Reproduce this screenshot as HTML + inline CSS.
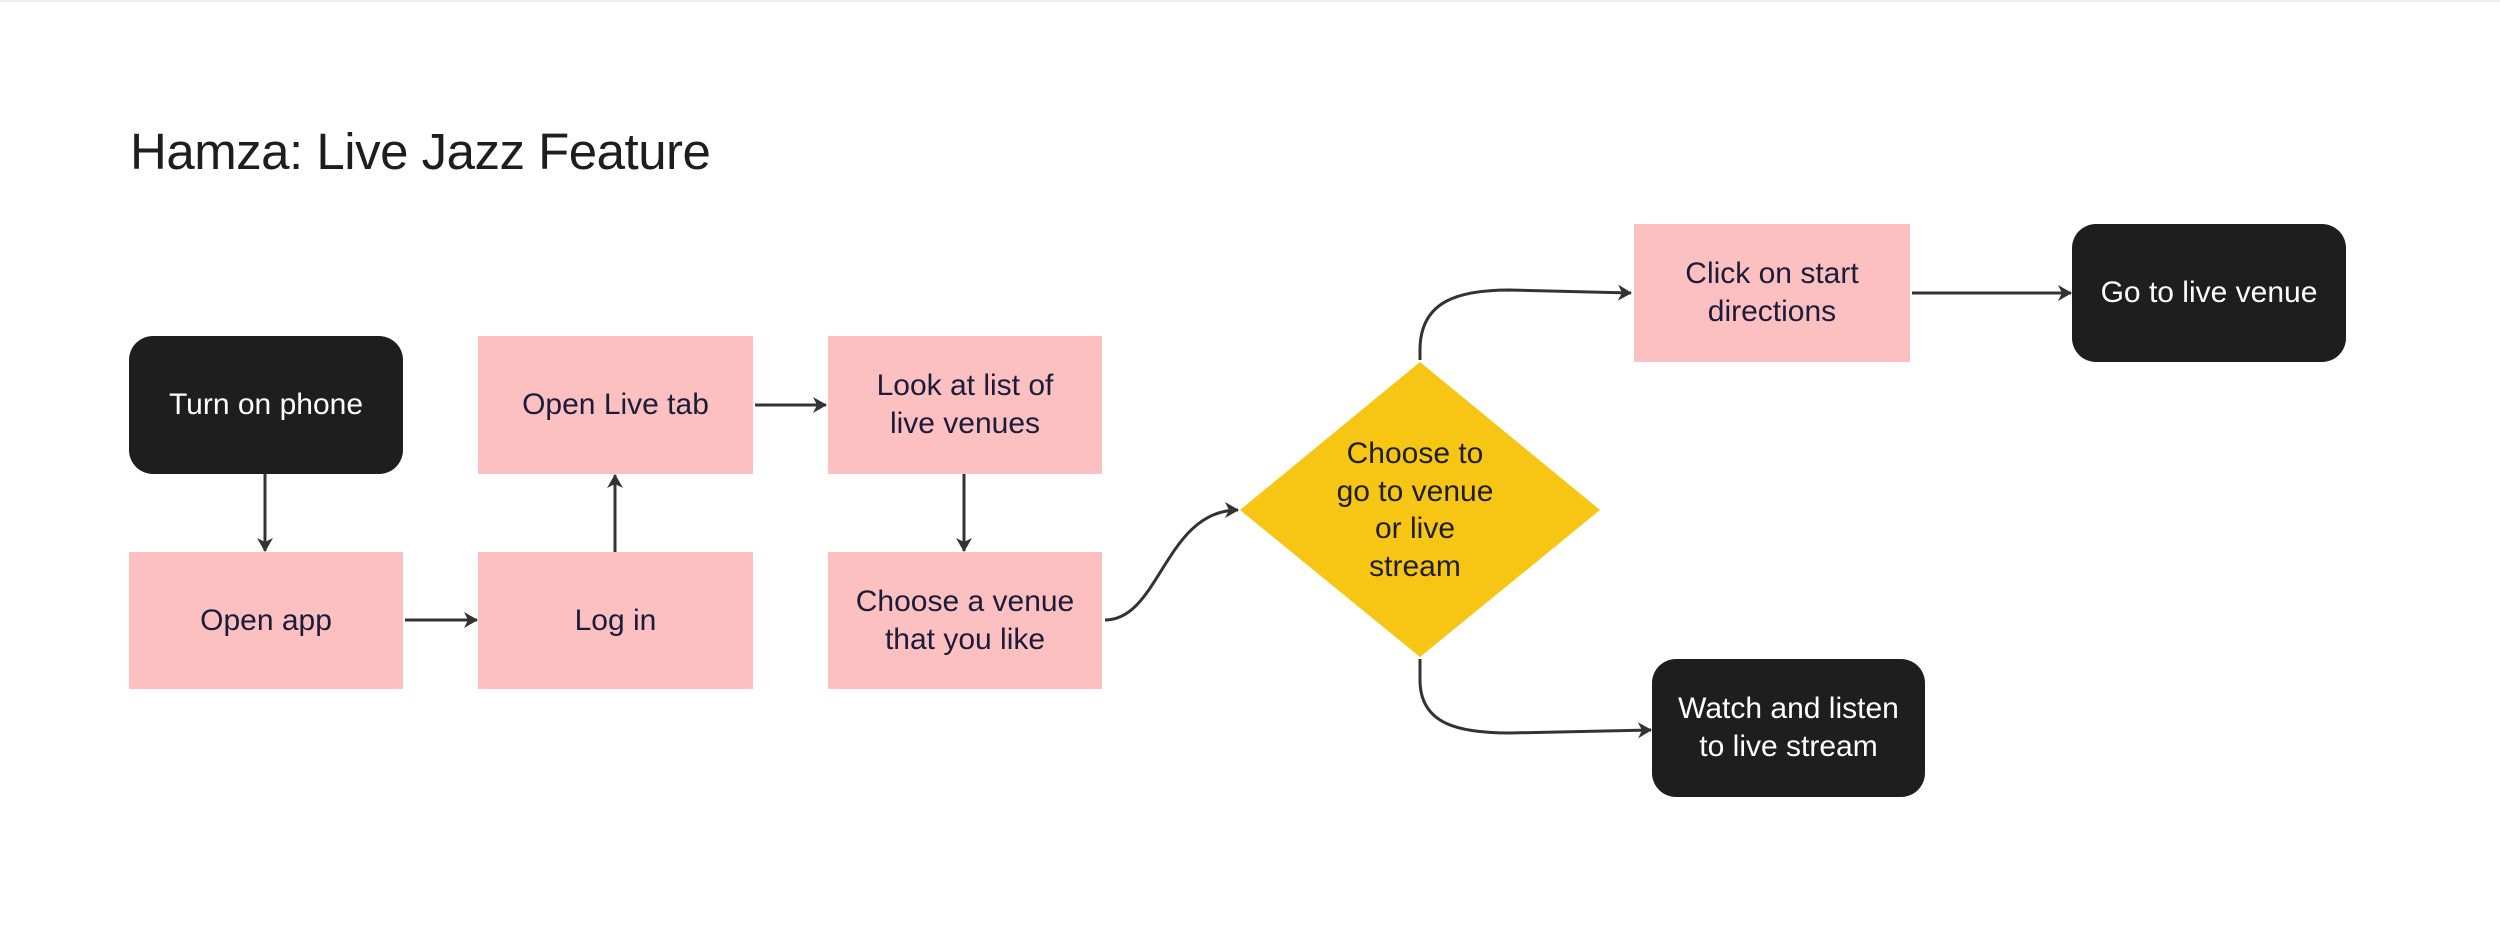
<!DOCTYPE html>
<html><head><meta charset="utf-8"><style>
html,body{margin:0;padding:0;background:#fff;}
body{width:2500px;height:937px;position:relative;overflow:hidden;font-family:"Liberation Sans",Arial,sans-serif;}
.t{position:absolute;left:130px;top:122px;font-size:51px;color:#1e1e1e;letter-spacing:-0.5px;}
.b{position:absolute;display:flex;align-items:center;justify-content:center;text-align:center;font-size:30px;line-height:38px;box-sizing:border-box;}
.p{background:#fdc0c0;color:#1b1b3a;}
.k{background:#1e1e1e;color:#fff;border-radius:24px;}
.d{position:absolute;left:1415px;top:510px;width:300px;transform:translate(-50%,-50%);text-align:center;font-size:30px;line-height:37.5px;color:#1e1e1e;}
</style></head><body>
<div style="position:absolute;left:0;top:0;width:2500px;height:2px;background:#eee"></div>
<div class="t">Hamza: Live Jazz Feature</div>
<svg width="2500" height="937" style="position:absolute;left:0;top:0">
<defs><marker id="a" markerWidth="20" markerHeight="20" refX="16" refY="10" orient="auto" markerUnits="userSpaceOnUse">
<path d="M3,2 L17,10 L3,18 L7,10 Z" fill="#333"/></marker></defs>
<polygon points="1420,362 1600,510 1420,657 1240,510" fill="#f7c614"/>
<g stroke="#333" stroke-width="3" fill="none" marker-end="url(#a)">
<line x1="265" y1="474" x2="265" y2="551"/>
<line x1="405" y1="620" x2="477" y2="620"/>
<line x1="615" y1="552" x2="615" y2="475"/>
<line x1="755" y1="405" x2="826" y2="405"/>
<line x1="964" y1="474" x2="964" y2="551"/>
<path d="M1105,620 C1160,620 1165,510 1238,510"/>
<path d="M1420,360 L1420,350 C1420,300 1460,290 1510,290 L1631,293"/>
<line x1="1912" y1="293" x2="2071" y2="293"/>
<path d="M1420,659 L1420,680 C1420,725 1460,733 1510,733 L1651,730"/>
</g>
</svg>
<div class="b k" style="left:129px;top:336px;width:274px;height:138px">Turn on phone</div>
<div class="b p" style="left:129px;top:552px;width:274px;height:137px">Open app</div>
<div class="b p" style="left:478px;top:552px;width:275px;height:137px">Log in</div>
<div class="b p" style="left:478px;top:336px;width:275px;height:138px">Open Live tab</div>
<div class="b p" style="left:828px;top:336px;width:274px;height:138px">Look at list of<br>live venues</div>
<div class="b p" style="left:828px;top:552px;width:274px;height:137px">Choose a venue<br>that you like</div>
<div class="d">Choose to<br>go to venue<br>or live<br>stream</div>
<div class="b p" style="left:1634px;top:224px;width:276px;height:138px">Click on start<br>directions</div>
<div class="b k" style="left:2072px;top:224px;width:274px;height:138px">Go to live venue</div>
<div class="b k" style="left:1652px;top:659px;width:273px;height:138px">Watch and listen<br>to live stream</div>
</body></html>
